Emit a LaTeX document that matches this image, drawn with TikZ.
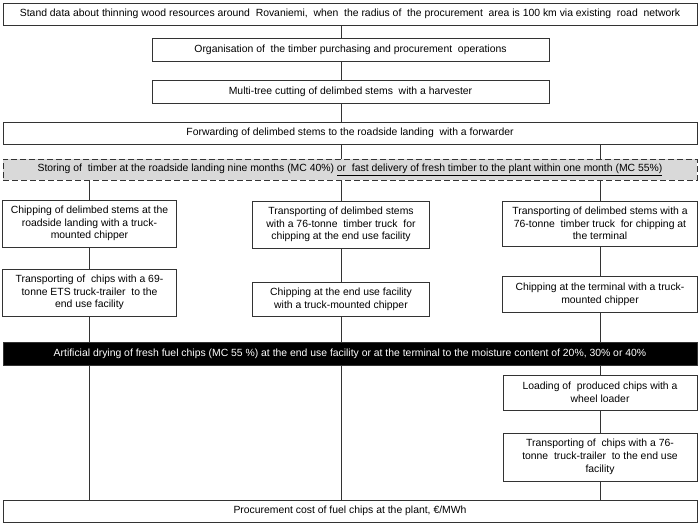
\documentclass[tikz,border=0pt]{standalone}
\usepackage{fontspec}
\setmainfont{Liberation Sans}
\usetikzlibrary{positioning,backgrounds}
\tikzset{
  stepbox/.style={draw=black!80,line width=0.7pt,fill=white,align=center,inner sep=1pt,
    font=\fontsize{10.4}{12.7}\selectfont},
  widebox/.style={stepbox,minimum width=694pt,minimum height=22pt},
  midbox/.style={stepbox,minimum width=397pt,minimum height=23pt},
  holdbox/.style={widebox,fill=black!15,dash pattern=on 6pt off 3pt},
  darkbox/.style={widebox,fill=black,text=white,minimum height=23pt},
  link/.style={draw=black!80,line width=0.7pt},
}

\begin{document}
\begin{tikzpicture}[x=1pt,y=-1pt]
  \useasboundingbox (0,0) rectangle (700,527);
  % common chain
  \node[widebox] (stand) at (350,14) {Stand data about thinning wood resources around\ \ Rovaniemi,\ \ when\ \ the radius of\ \ the procurement\ \ area is 100 km via existing\ \ road\ \ network};
  \node[midbox] (organise) at (350.5,49.5) {Organisation of\ \ the timber purchasing and procurement\ \ operations};
  \node[midbox] (cutting) at (350.5,91.5) {Multi-tree cutting of delimbed stems\ \ with a harvester};
  \node[widebox] (forward) at (350,133) {Forwarding of delimbed stems to the roadside landing\ \ with a forwarder};
  \node[holdbox,minimum height=21pt] (storing) at (350,169.5) {Storing of\ \ timber at the roadside landing nine months (MC 40\%) \underline{or\ \ fast delivery of fresh timber to the plant within one month (MC 55\%)}};
  % left: roadside chipping
  \node[stepbox,minimum width=174pt,minimum height=47pt] (roadchip) at (89.5,223.5) {Chipping of delimbed stems at the\\roadside landing with a truck-\\mounted chipper};
  \node[stepbox,minimum width=174pt,minimum height=47pt] (roadhaul) at (89.5,292.5) {Transporting of\ \ chips with a 69-\\tonne ETS truck-trailer\ \ to the\\end use facility};
  % middle: chipping at plant
  \node[stepbox,minimum width=177pt,minimum height=47pt] (planthaul) at (341,224.5) {Transporting of delimbed stems\\with a 76-tonne\ \ timber truck\ \ for\\chipping at the end use facility};
  \node[stepbox,minimum width=177pt,minimum height=34pt] (plantchip) at (341,299) {Chipping at the end use facility\\with a truck-mounted chipper};
  % right: terminal chipping
  \node[stepbox,minimum width=195pt,minimum height=45pt] (termhaul) at (600,223.5) {Transporting of delimbed stems with a\\76-tonne\ \ timber truck\ \ for chipping at\\the terminal};
  \node[stepbox,minimum width=195pt,minimum height=36pt] (termchip) at (600,294) {Chipping at the terminal with a truck-\\mounted chipper};
  \node[darkbox] (drying) at (350,353.5) {Artificial drying of fresh fuel chips (MC 55 \%) at the end use facility or at the terminal to the moisture content of 20\%, 30\% or 40\%};
  \node[stepbox,minimum width=194pt,minimum height=35pt] (loading) at (600,392.5) {Loading of\ \ produced chips with a\\wheel loader};
  \node[stepbox,minimum width=194pt,minimum height=48pt] (termtrans) at (600,457) {Transporting of\ \ chips with a 76-\\tonne\ \ truck-trailer\ \ to the end use\\facility};
  \node[widebox] (cost) at (350,511) {Procurement cost of fuel chips at the plant, €/MWh};

  \begin{scope}[on background layer]
    \draw[link] (stand.south -| planthaul) -- (organise.north -| planthaul);
    \draw[link] (organise.south -| planthaul) -- (cutting.north -| planthaul);
    \draw[link] (cutting.south -| planthaul) -- (forward.north -| planthaul);
    \draw[link] (forward.south -| planthaul) -- (storing.north -| planthaul);
    \draw[link] (forward.south -| termhaul) -- (storing.north -| termhaul);
    \draw[link] (storing.south -| roadchip) -- (roadchip.north);
    \draw[link] (storing.south -| planthaul) -- (planthaul.north);
    \draw[link] (storing.south -| termhaul) -- (termhaul.north);
    \draw[link] (roadchip) -- (roadhaul);
    \draw[link] (planthaul) -- (plantchip);
    \draw[link] (termhaul) -- (termchip);
    \draw[link] (roadhaul.south) -- (cost.north -| roadhaul);
    \draw[link] (plantchip.south) -- (cost.north -| plantchip);
    \draw[link] (termchip.south) -- (drying.north -| termchip);
    \draw[link] (drying.south -| loading) -- (loading.north);
    \draw[link] (loading) -- (termtrans);
    \draw[link] (termtrans.south) -- (cost.north -| termtrans);
  \end{scope}
\end{tikzpicture}
\end{document}
